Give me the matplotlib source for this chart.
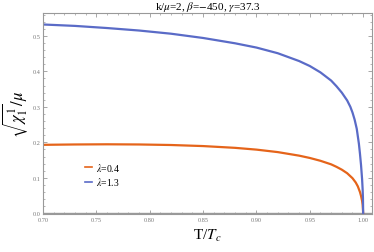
import matplotlib
matplotlib.use("Agg")
import matplotlib.pyplot as plt
from matplotlib.ticker import MultipleLocator, FormatStrFormatter

plt.rcParams['font.family'] = ['Liberation Serif', 'DejaVu Serif']
plt.rcParams['mathtext.fontset'] = 'stix'

# lambda = 0.4 (orange)
T_a = [0.70, 0.73, 0.76, 0.79, 0.82, 0.85, 0.88, 0.90, 0.92, 0.94, 0.95, 0.96, 0.97,
       0.975, 0.98, 0.985, 0.99, 0.993, 0.995, 0.997, 0.998, 0.999, 0.9995, 1.0]
v_a = [0.193, 0.194, 0.1945, 0.194, 0.1925, 0.1895, 0.1845, 0.1795, 0.1725, 0.1625,
       0.156, 0.148, 0.138, 0.131, 0.123, 0.113, 0.099, 0.087, 0.076, 0.060, 0.049,
       0.035, 0.024, 0.0]
# lambda = 1.3 (blue)
T_b = [0.70, 0.73, 0.76, 0.79, 0.82, 0.85, 0.88, 0.90, 0.92, 0.94, 0.95, 0.96, 0.97,
       0.975, 0.98, 0.985, 0.988, 0.99, 0.992, 0.994, 0.996, 0.997, 0.998, 0.999,
       0.9995, 0.9998, 1.0]
v_b = [0.532, 0.528, 0.522, 0.515, 0.506, 0.494, 0.479, 0.467, 0.451, 0.429, 0.415,
       0.397, 0.374, 0.358, 0.340, 0.318, 0.300, 0.284, 0.264, 0.238, 0.196, 0.168,
       0.136, 0.096, 0.068, 0.043, 0.0]
labels = [r'$\lambda$=0.4', r'$\lambda$=1.3']
colors = ['#E5641A', '#5A6BC7']

fig = plt.figure(figsize=(3.74, 2.53), dpi=100)
ax = fig.add_axes([0.115, 0.150, 0.880, 0.795])

ax.plot(T_a, v_a, color=colors[0], lw=1.6, label=labels[0])
ax.plot(T_b, v_b, color=colors[1], lw=1.6, label=labels[1])
ax.axhline(0, color='#999999', lw=1.0, zorder=0)

ax.set_xlim(0.70, 1.0084)
ax.set_ylim(-0.002, 0.5646)

ax.xaxis.set_major_locator(MultipleLocator(0.05))
ax.xaxis.set_minor_locator(MultipleLocator(0.01))
ax.yaxis.set_major_locator(MultipleLocator(0.1))
ax.yaxis.set_minor_locator(MultipleLocator(0.02))
ax.xaxis.set_major_formatter(FormatStrFormatter('%.2f'))
ax.yaxis.set_major_formatter(FormatStrFormatter('%.1f'))

ax.tick_params(which='both', direction='in', top=True, right=True,
               color='#999999', labelsize=4.5, labelcolor='#777777', pad=2)
ax.tick_params(which='major', length=3, width=0.6)
ax.tick_params(which='minor', length=1.6, width=0.5)
for s in ax.spines.values():
    s.set_color('#999999')
    s.set_linewidth(0.8)

ax.set_title(r'k/$\mu$=2, $\beta$=$-$450, $\gamma$=37.3', fontsize=8, pad=2)
ax.set_xlabel(r'T/$T_c$', fontsize=11, labelpad=4)
ax.set_ylabel(r'$\sqrt{\chi_1^1}/\mu$', fontsize=12, labelpad=2)

leg = ax.legend(loc='lower left', bbox_to_anchor=(0.10, 0.09), frameon=False,
                fontsize=7, handlelength=0.8, handletextpad=0.4, labelspacing=0.25)
for line in leg.get_lines():
    line.set_linewidth(1.2)

fig.savefig('out.png', dpi=100)
